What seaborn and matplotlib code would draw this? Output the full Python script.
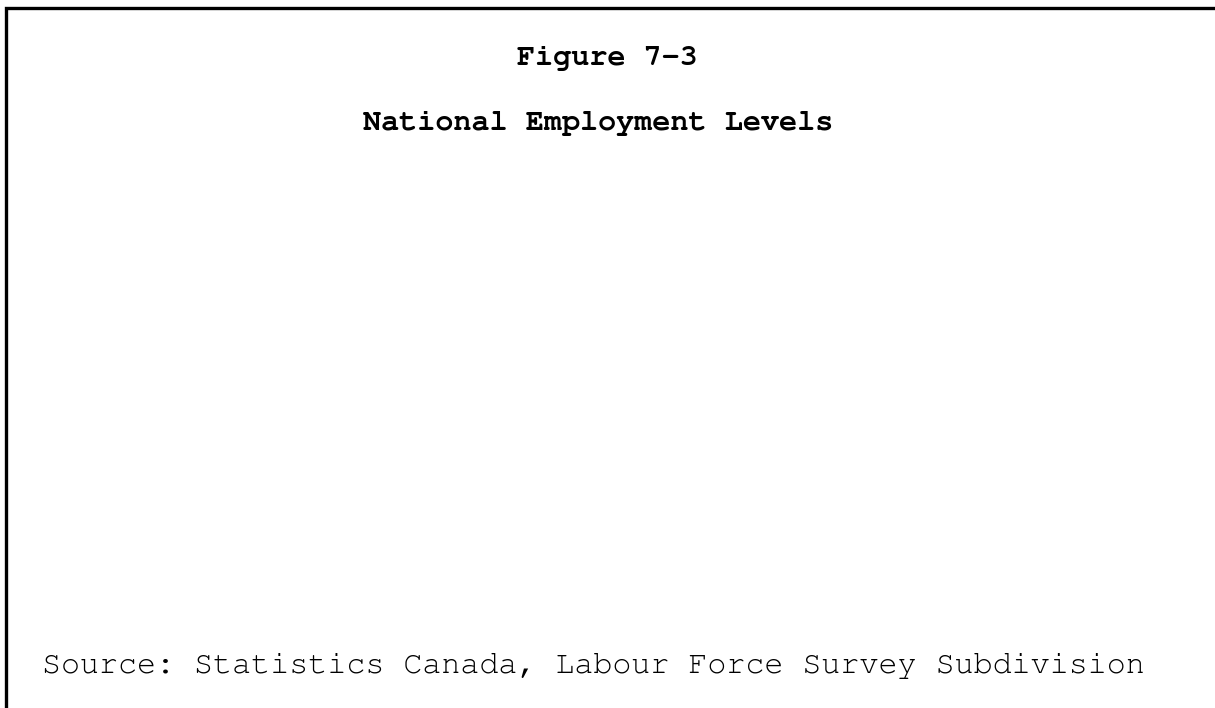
import matplotlib
matplotlib.use('Agg')
import matplotlib.pyplot as plt
import seaborn as sns
from matplotlib.patches import Rectangle
from matplotlib import font_manager

# chart text (the reference shows no plotted series)
figure_label = "Figure 7-3"
chart_title = "National Employment Levels"
source_note = "Source: Statistics Canada, Labour Force Survey Subdivision"

sns.set_theme(style='white')
installed = {f.name for f in font_manager.fontManager.ttflist}
mono = [f for f in ['Courier New', 'Nimbus Mono PS', 'FreeMono', 'Courier',
                    'Liberation Mono', 'DejaVu Sans Mono'] if f in installed]
plt.rcParams['font.family'] = mono

W, H = 1215, 708
fig = plt.figure(figsize=(W / 100, H / 100), dpi=100)
fig.patch.set_facecolor('white')

# empty plotting area
ax = fig.add_axes([0.05, 0.15, 0.9, 0.6])
ax.set_axis_off()

# frame: only top and left edges fall inside the picture
fig.patches.append(Rectangle((5.5 / W, -0.5), 2.0, 1 - 7.5 / H + 0.5,
                             transform=fig.transFigure, fill=False,
                             edgecolor='black', linewidth=2.4))

fig.text(607.5 / W, 1 - 65 / H, figure_label, ha='center', va='baseline',
         fontsize=21.7, fontweight='bold', color='black')
fig.text(598 / W, 1 - 129.5 / H, chart_title, ha='center', va='baseline',
         fontsize=21.7, fontweight='bold', color='black')
fig.text(42 / W, 1 - 673 / H, source_note, ha='left', va='baseline',
         fontsize=22.9, color='black')

fig.savefig('out.png', dpi=100)
